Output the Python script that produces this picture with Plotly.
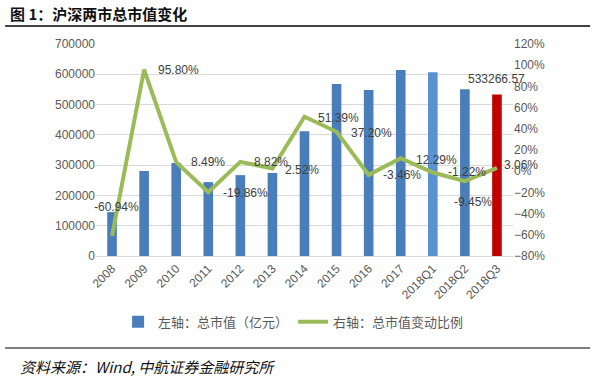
import plotly.graph_objects as go

categories = ["2008", "2009", "2010", "2011", "2012", "2013", "2014", "2015",
              "2016", "2017", "2018Q1", "2018Q2", "2018Q3"]
market_cap = [145000, 281000, 307000, 244000, 267000, 274000, 412000, 568000,
              548000, 614000, 607000, 551000, 533266.57]
change_pct = [-60.94, 95.80, 8.49, -19.86, 8.82, 2.52, 51.39, 37.20,
              -3.46, 12.29, -1.22, -9.45, 3.06]

bar_colors = ["#4A7EBB"] * 10 + ["#5A91D2", "#4A7EBB", "#C00000"]
# label placement per point: (xanchor, xshift, yshift)
label_pos = [("center", 4, 29), ("left", 12, 0), ("left", 13, 0), ("left", 13, -1),
             ("left", 12, 0), ("left", 11, -1), ("left", 11, -1), ("left", 12, -1),
             ("left", 12, 0), ("left", 13, -2), ("left", 13, 0), ("center", 8, -21),
             ("left", 5, 3)]

TICK_FONT = dict(family="Liberation Sans, Arial, sans-serif", size=12, color="#595959")
CJK = "Noto Sans CJK SC"

fig = go.Figure()
fig.add_trace(go.Bar(
    x=categories, y=market_cap, name="左轴：总市值（亿元）", legendgroup="a",
    marker=dict(color=bar_colors, line=dict(width=0)),
    width=0.3, yaxis="y",
))
fig.add_trace(go.Scatter(
    x=categories, y=[v / 100 for v in change_pct], name="右轴：总市值变动比例",
    legendgroup="b",
    mode="lines", line=dict(color="#9BBB59", width=4), yaxis="y2",
))

annotations = []
for i, (v, (xa, xs, ys)) in enumerate(zip(change_pct, label_pos)):
    annotations.append(dict(
        x=i, y=v / 100, xref="x", yref="y2", text=f"{v:.2f}%",
        showarrow=False, xanchor=xa, yanchor="middle", xshift=xs, yshift=ys,
        font=dict(family="Liberation Sans, Arial, sans-serif", size=12, color="#404040"),
    ))
annotations.append(dict(
    x=len(categories) - 1, y=market_cap[-1], xref="x", yref="y", text=f"{market_cap[-1]:.2f}",
    showarrow=False, xanchor="center", yanchor="bottom", yshift=7,
    font=dict(family="Liberation Sans, Arial, sans-serif", size=12, color="#404040"),
))
annotations.append(dict(
    x=-0.211, y=1.142, xref="paper", yref="paper", text="<b>图 1：沪深两市总市值变化</b>",
    showarrow=False, xanchor="left", yanchor="middle",
    font=dict(family=CJK, size=15, color="#111111"),
))
annotations.append(dict(
    x=-0.187, y=-0.52, xref="paper", yref="paper",
    text="<i>资料来源：Wind, 中航证券金融研究所</i>",
    showarrow=False, xanchor="left", yanchor="middle",
    font=dict(family=CJK, size=15, color="#111111"),
))

shapes = [
    dict(type="line", xref="paper", yref="paper", x0=-0.218, x1=1.185, y0=1.085, y1=1.085,
         line=dict(color="#000000", width=1.5)),
    dict(type="line", xref="paper", yref="paper", x0=-0.218, x1=1.185, y0=-0.434, y1=-0.434,
         line=dict(color="#000000", width=1.2)),
]

fig.update_layout(
    width=598, height=384,
    margin=dict(l=96, r=85, t=44, b=128),
    paper_bgcolor="white", plot_bgcolor="white",
    showlegend=True,
    legend=dict(orientation="h", x=0.053, xanchor="left", y=-0.31, yanchor="middle",
                font=dict(family=CJK, size=13, color="#595959"),
                itemwidth=30, tracegroupgap=30,
                bgcolor="rgba(0,0,0,0)"),
    xaxis=dict(type="category", range=[-0.5, len(categories) - 0.5], tickangle=-45,
               tickfont=TICK_FONT, showgrid=False,
               showline=True, linecolor="#d9d9d9", ticks=""),
    yaxis=dict(range=[0, 700000], dtick=100000, tickformat="d", tickfont=TICK_FONT,
               showgrid=True, gridcolor="#d9d9d9", zeroline=False, showline=False, ticks=""),
    yaxis2=dict(range=[-0.8, 1.2], dtick=0.2, tickformat=".0%", tickfont=TICK_FONT,
                overlaying="y", side="right", showgrid=False, zeroline=False,
                showline=False, ticks=""),
    annotations=annotations, shapes=shapes,
)

fig.write_html("out.html", config={"displayModeBar": False},
               post_script="document.body.style.margin='0';")
